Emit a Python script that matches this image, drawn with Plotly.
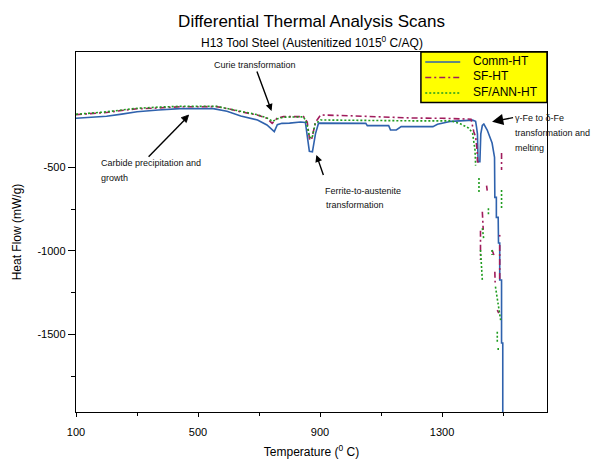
import plotly.graph_objects as go

# ---- data ----
blue_x = [100, 150, 200, 250, 300, 370, 440, 550, 595, 640, 695, 726, 745, 750, 760,
          775, 800, 836, 852, 858, 865, 875, 885, 895, 1050, 1055, 1125, 1131, 1150, 1166,
          1270, 1285, 1330, 1400, 1410, 1413, 1416, 1418, 1424, 1427, 1432, 1437, 1448, 1464, 1472,
          1473, 1478, 1478, 1484, 1485, 1489, 1489, 1495, 1495, 1499, 1499]
blue_y = [-207, -203, -195, -182, -168, -157, -149, -149, -165, -193, -217, -247, -280, -287, -245,
          -237, -236, -229, -232, -300, -405, -408, -300, -236, -237, -251, -251, -277, -277, -257,
          -257, -243, -225, -218, -225, -260, -300, -466, -466, -300, -250, -241, -277, -355, -440,
          -680, -680, -800, -800, -953, -953, -1175, -1175, -1552, -1552, -2000]

red_x = [100, 150, 200, 250, 300, 370, 440, 560, 600, 640, 694, 726, 743, 759, 780, 846, 858, 866, 872,
         885, 902, 1000, 1100, 1200, 1300, 1395, 1404, 1410, 1415, 1416, 1421, None, 1446, 1448, None,
         1432, 1435, None, 1426, 1426, None, 1464, 1470, None, 1489, 1489, None, 1489, 1489, None,
         1473, 1474, None, 1481, 1486, None, 1495, 1495]
red_y = [-185, -180, -172, -160, -150, -145, -138, -137, -150, -168, -187, -207, -237, -207, -197, -197, -230, -336, -336,
         -230, -187, -192, -200, -205, -207, -212, -287, -317, -400, -467, -470, None, -610, -640, None,
         -766, -875, None, -880, -1055, None, -995, -1025, None, -905, -915, None, -965, -1175, None,
         -1125, -1190, None, -1355, -1373, None, -415, -516]

green_x = [100, 150, 200, 250, 300, 370, 440, 560, 600, 640, 694, 726, 745, 760, 780, 846, 856, 866, 874,
           884, 902, 1000, 1100, 1200, 1330, 1360, 1387, 1400, 1408, 1410, None, 1421, 1421, None,
           1452, 1452, None, 1495, 1495, None, 1432, 1437, None, 1426, 1432, None, 1464, 1464, None,
           1475, 1492, None, 1481, 1481, None, 1484, 1484]
green_y = [-183, -177, -168, -157, -147, -140, -135, -135, -148, -165, -185, -205, -225, -210, -200, -198, -235, -320, -325,
           -240, -217, -220, -222, -222, -222, -240, -265, -295, -397, -490, None, -564, -654, None,
           -745, -786, None, -636, -756, None, -865, -935, None, -995, -1175, None, -995, -1025, None,
           -1215, -1415, None, -1485, -1545, None, -1582, -1595]

series_names = ["Comm-HT", "SF-HT", "SF/ANN-HT"]
series_colors = ["#2f62ad", "#a01c5c", "#1f9c1f"]
series_dash = ["solid", "6px,3px,2px,3px", "2px,2px"]
x_ticks = [100, 500, 900, 1300]
x_ticktext = ["100", "500", "900", "1300"]
y_ticks = [-500, -1000, -1500]
y_ticktext = ["-500", "-1000", "-1500"]
y_minor = [-750, -1250, -1750]

FONT = "Liberation Sans"

fig = go.Figure()
for xs, ys, nm, col, ds in zip([blue_x, red_x, green_x], [blue_y, red_y, green_y],
                               series_names, series_colors, series_dash):
    fig.add_trace(go.Scatter(x=xs, y=ys, mode="lines", name=nm, showlegend=False,
                             line=dict(color=col, width=1.6, dash=ds), connectgaps=False))

ann_font = dict(family=FONT, size=9, color="#111")
arrow_style = dict(showarrow=True, arrowhead=2, arrowwidth=1.4, arrowcolor="black",
                   standoff=0, startstandoff=0)
annotations = []
# Curie transformation (text with arrow)
annotations.append(dict(x=741, y=-163, xref="x", yref="y", text="Curie transformation",
                        ax=-17, ay=-46, arrowsize=1.0, font=ann_font,
                        xanchor="center", yanchor="middle", **arrow_style))
# Ferrite-to-austenite (arrow from the top-left corner of the text box)
annotations.append(dict(x=888, y=-426, xref="x", yref="y", text="Ferrite-to-austenite",
                        ax=7, ay=20, arrowsize=1.0, font=ann_font, height=19, valign="bottom",
                        xanchor="left", yanchor="top", align="left", **arrow_style))
annotations.append(dict(x=912, y=-725, xref="x", yref="y", text="transformation", showarrow=False,
                        font=ann_font, xanchor="left", yanchor="middle", align="left"))
# gamma -> delta (arrow from the left edge of the text)
annotations.append(dict(x=1464, y=-227, xref="x", yref="y", text="γ-Fe to δ-Fe",
                        ax=21, ay=-4, arrowsize=1.6, font=ann_font,
                        xanchor="left", yanchor="middle", align="left", **arrow_style))
for (tx, ty, t) in [(174, -476, "Carbide precipitation and"), (174, -566, "growth"),
                    (1533, -297, "transformation and"), (1533, -386, "melting")]:
    annotations.append(dict(x=tx, y=ty, xref="x", yref="y", text=t, showarrow=False,
                            font=ann_font, xanchor="left", yanchor="middle", align="left"))
# subtitle
annotations.append(dict(x=0.5, y=(412.5 - 41.7) / 360.5, xref="paper", yref="paper",
                        text="H13 Tool Steel (Austenitized 1015<sup>0</sup> C/AQ)",
                        showarrow=False, font=dict(family=FONT, size=12, color="black"),
                        xanchor="center", yanchor="middle"))

shapes = []
# carbide arrow: shaft and filled head
shapes.append(dict(type="line", xref="x", yref="y", x0=338, y0=-437, x1=455, y1=-219,
                   line=dict(color="black", width=1.4), layer="above"))
shapes.append(dict(type="path", xref="x", yref="y",
                   path="M 469.1,-187.4 L 461.5,-232.0 L 445.0,-203.1 Z",
                   fillcolor="black", line=dict(color="black", width=0.8), layer="above"))

# legend box (drawn to match the reference's compact yellow legend)
shapes.append(dict(type="rect", xref="paper", yref="paper", x0=0.7323, x1=1.0, y0=0.8594, y1=1.0,
                   fillcolor="#ffff00", line=dict(color="black", width=1.5), layer="above"))
leg_rows = [0.9723, 0.9293, 0.8863]
for nm, col, ds, ry in zip(series_names, series_colors, series_dash, leg_rows):
    shapes.append(dict(type="line", xref="paper", yref="paper", x0=0.7415, x1=0.8158, y0=ry, y1=ry,
                       line=dict(color=col, width=1.6, dash=ds), layer="above"))
    annotations.append(dict(x=0.8390, y=ry + 0.003, xref="paper", yref="paper", text=nm,
                            showarrow=False, xanchor="left", yanchor="middle",
                            font=dict(family=FONT, size=12, color="black")))

fig.update_layout(
    width=602, height=459,
    margin=dict(l=76, r=55.3, t=52, b=46.5, autoexpand=False),
    paper_bgcolor="white", plot_bgcolor="white",
    font=dict(family=FONT, color="black"),
    title=dict(text="Differential Thermal Analysis Scans", x=0.5, xref="paper", xanchor="center",
               y=1 - 20.7 / 459, yref="container", yanchor="middle",
               font=dict(family=FONT, size=17, color="black")),
    showlegend=False,
    annotations=annotations,
    shapes=shapes,
)
fig.update_xaxes(range=[100, 1644], showline=True, linecolor="black", linewidth=1.4, mirror=True,
                 showgrid=False, zeroline=False, tickmode="array", tickvals=x_ticks, ticktext=x_ticktext,
                 ticks="outside", ticklen=4, tickwidth=1.2, tickcolor="black", ticklabelstandoff=6,
                 tickfont=dict(family=FONT, size=11, color="black"),
                 minor=dict(tickmode="linear", tick0=300, dtick=400, ticks="outside", ticklen=3,
                            tickwidth=1.2, tickcolor="black", showgrid=False),
                 title=dict(text="Temperature (<sup>0</sup> C)", standoff=12,
                            font=dict(family=FONT, size=12, color="black")))
fig.update_yaxes(range=[-1965, 190], showline=True, linecolor="black", linewidth=1.4, mirror=True,
                 showgrid=False, zeroline=False, tickmode="array", tickvals=y_ticks, ticktext=y_ticktext,
                 ticks="outside", ticklen=7, tickwidth=1.2, tickcolor="black",
                 tickfont=dict(family=FONT, size=11, color="black"),
                 minor=dict(tickmode="array", tickvals=y_minor, ticks="outside", ticklen=4,
                            tickwidth=1.2, tickcolor="black", showgrid=False),
                 title=dict(text="Heat Flow (mW/g)", standoff=13,
                            font=dict(family=FONT, size=12, color="black")))

fig.write_html("out.html", config={"displayModeBar": False},
               post_script="document.body.style.margin='0px';")
